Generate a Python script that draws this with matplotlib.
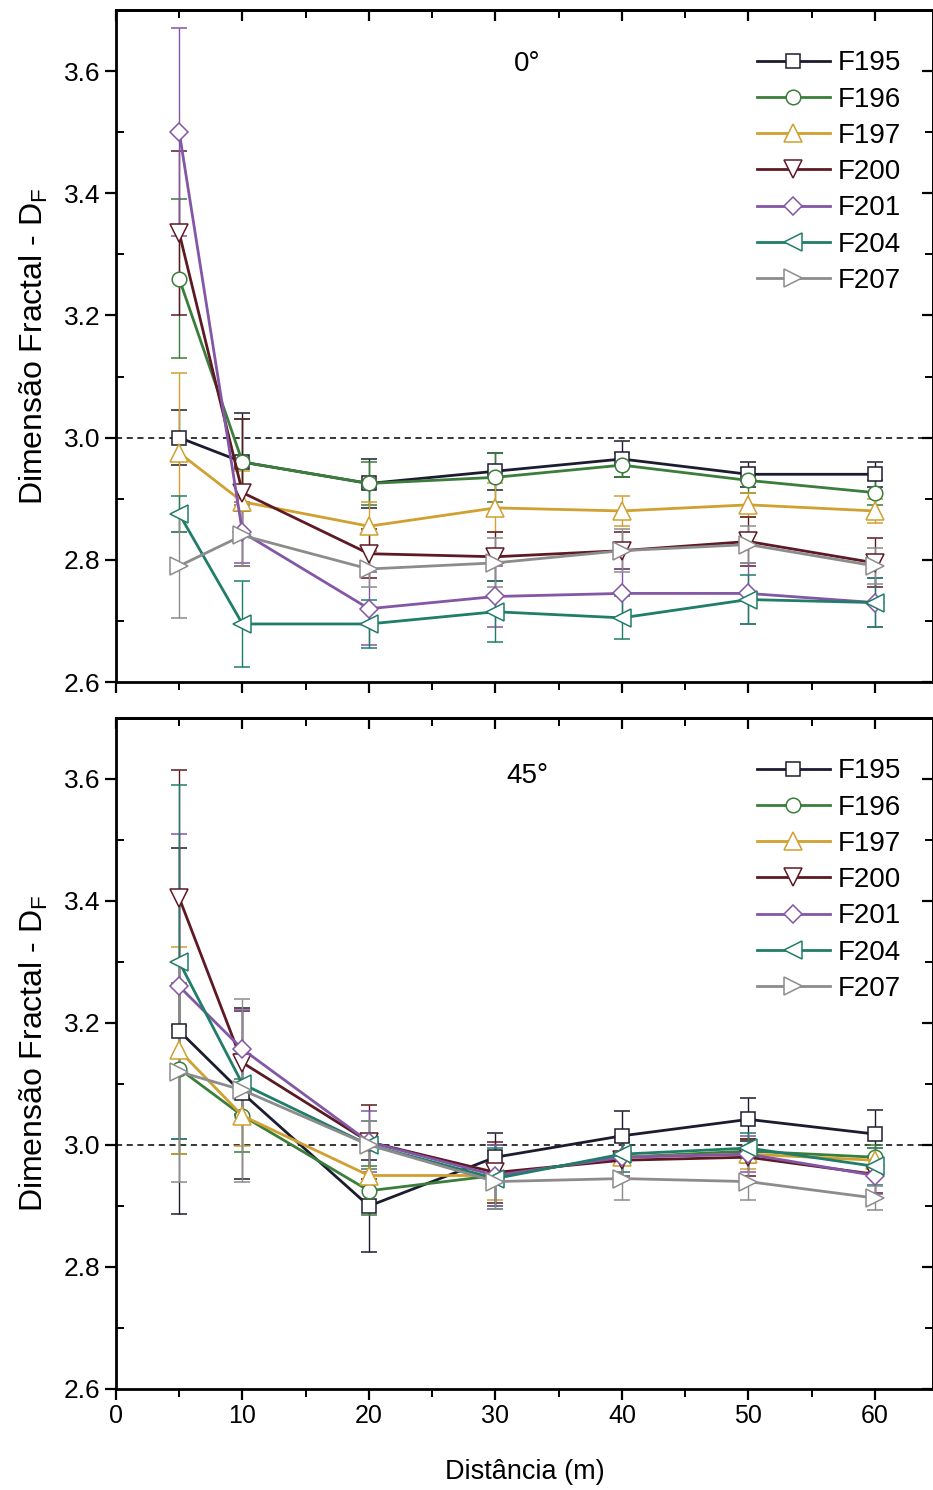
import matplotlib
matplotlib.use("Agg")
import matplotlib.pyplot as plt
from matplotlib.lines import Line2D
from matplotlib.ticker import MultipleLocator

plt.rcParams['font.family'] = ['Liberation Sans', 'DejaVu Sans']
plt.rcParams['mathtext.fontset'] = 'custom'
plt.rcParams['mathtext.rm'] = 'Liberation Sans'
plt.rcParams['mathtext.it'] = 'Liberation Sans:italic'

# Distances (m)
distancia = [5, 10, 20, 30, 40, 50, 60]

series = ['F195', 'F196', 'F197', 'F200', 'F201', 'F204', 'F207']
colors = ['#1c1c30', '#3b7d3b', '#d0a030', '#5e1a24', '#8456a6', '#1f7d68', '#8c8c8c']
markers = ['s', 'o', '^', 'v', 'D', '<', '>']
marker_sizes = [10, 10.5, 12.5, 12.5, 9.5, 12.5, 12.5]

# Fractal dimension, 0 degrees
df_0 = {
    'F195': [3.000, 2.960, 2.925, 2.945, 2.965, 2.940, 2.940],
    'F196': [3.260, 2.960, 2.925, 2.935, 2.955, 2.930, 2.910],
    'F197': [2.975, 2.895, 2.855, 2.885, 2.880, 2.890, 2.880],
    'F200': [3.335, 2.910, 2.810, 2.805, 2.815, 2.830, 2.795],
    'F201': [3.500, 2.845, 2.720, 2.740, 2.745, 2.745, 2.730],
    'F204': [2.875, 2.695, 2.695, 2.715, 2.705, 2.735, 2.730],
    'F207': [2.790, 2.840, 2.785, 2.795, 2.815, 2.825, 2.790],
}
err_0 = {
    'F195': [0.045, 0.080, 0.040, 0.030, 0.030, 0.020, 0.020],
    'F196': [0.130, 0.070, 0.035, 0.040, 0.020, 0.020, 0.020],
    'F197': [0.130, 0.050, 0.040, 0.040, 0.025, 0.020, 0.020],
    'F200': [0.135, 0.120, 0.040, 0.040, 0.030, 0.040, 0.040],
    'F201': [0.170, 0.050, 0.060, 0.050, 0.040, 0.050, 0.040],
    'F204': [0.030, 0.070, 0.040, 0.050, 0.035, 0.040, 0.040],
    'F207': [0.085, 0.050, 0.030, 0.040, 0.035, 0.030, 0.030],
}

# Fractal dimension, 45 degrees
df_45 = {
    'F195': [3.187, 3.085, 2.900, 2.980, 3.015, 3.042, 3.018],
    'F196': [3.125, 3.048, 2.925, 2.950, 2.980, 2.990, 2.980],
    'F197': [3.155, 3.048, 2.950, 2.950, 2.980, 2.985, 2.975],
    'F200': [3.405, 3.135, 3.005, 2.955, 2.975, 2.980, 2.952],
    'F201': [3.260, 3.157, 3.005, 2.950, 2.980, 2.985, 2.950],
    'F204': [3.300, 3.100, 3.000, 2.945, 2.985, 2.995, 2.965],
    'F207': [3.120, 3.090, 3.000, 2.940, 2.945, 2.940, 2.913],
}
err_45 = {
    'F195': [0.300, 0.140, 0.075, 0.040, 0.040, 0.035, 0.040],
    'F196': [0.140, 0.060, 0.040, 0.050, 0.030, 0.020, 0.020],
    'F197': [0.170, 0.050, 0.040, 0.040, 0.030, 0.025, 0.020],
    'F200': [0.210, 0.085, 0.060, 0.050, 0.030, 0.030, 0.030],
    'F201': [0.250, 0.065, 0.050, 0.050, 0.030, 0.030, 0.030],
    'F204': [0.290, 0.050, 0.040, 0.050, 0.030, 0.025, 0.030],
    'F207': [0.180, 0.150, 0.040, 0.045, 0.035, 0.030, 0.020],
}

panels = [(df_0, err_0, '0°', 3.612), (df_45, err_45, '45°', 3.605)]

fig = plt.figure(figsize=(9.33, 14.90), dpi=100)
W, H = 933, 1490
left_px, right_px = 116, 933
ax_rects = [(10, 682), (718, 1389)]  # (top, bottom) in pixels

for i, ((vals, errs, title, title_y), (top_px, bot_px)) in enumerate(zip(panels, ax_rects)):
    ax = fig.add_axes([left_px / W, 1 - bot_px / H, (right_px - left_px) / W, (bot_px - top_px) / H])
    handles = []
    for name, c, m, ms in zip(series, colors, markers, marker_sizes):
        ax.errorbar(distancia, vals[name], yerr=errs[name], color=c, lw=2.0,
                    marker=m, ms=ms, mfc='white', mec=c, mew=1.1,
                    ecolor=c, elinewidth=1.0, capsize=6, capthick=1.0)
        handles.append(Line2D([], [], color=c, lw=2.0, marker=m, ms=ms,
                              mfc='white', mec=c, mew=1.1, label=name))
    ax.axhline(3.0, color='black', ls=(0, (4, 3)), lw=1.1, zorder=1)
    ax.set_xlim(0, 64.6)
    ax.set_ylim(2.6, 3.7)
    ax.xaxis.set_major_locator(MultipleLocator(10))
    ax.xaxis.set_minor_locator(MultipleLocator(5))
    ax.yaxis.set_minor_locator(MultipleLocator(0.1))
    ax.set_yticks([2.6, 2.8, 3.0, 3.2, 3.4, 3.6])
    ax.set_yticklabels(['2.6', '2.8', '3.0', '3.2', '3.4', '3.6'])
    for s in ax.spines.values():
        s.set_linewidth(2.0)
    ax.tick_params(axis='both', which='major', direction='out', length=8, width=1.6,
                   labelsize=18, pad=3)
    ax.tick_params(axis='y', which='major', labelsize=19)
    ax.tick_params(axis='y', which='minor', direction='in', length=6, width=1.4)
    ax.tick_params(axis='x', which='minor', direction='out', length=6, width=1.4)
    # inward ticks on the top and right edges
    sec_x = ax.secondary_xaxis('top')
    sec_x.xaxis.set_major_locator(MultipleLocator(10))
    sec_x.xaxis.set_minor_locator(MultipleLocator(5))
    sec_x.tick_params(which='major', direction='in', length=8, width=1.6, labeltop=False)
    sec_x.tick_params(which='minor', direction='in', length=6, width=1.4)
    sec_y = ax.secondary_yaxis('right')
    sec_y.yaxis.set_major_locator(MultipleLocator(0.2))
    sec_y.yaxis.set_minor_locator(MultipleLocator(0.1))
    sec_y.tick_params(which='major', direction='in', length=8, width=1.6, labelright=False)
    sec_y.tick_params(which='minor', direction='in', length=6, width=1.4)
    for s in list(sec_x.spines.values()) + list(sec_y.spines.values()):
        s.set_linewidth(2.0)

    ax.set_ylabel('Dimensão Fractal - D$_\\mathrm{F}$', fontsize=23, labelpad=10)
    if i == 0:
        ax.tick_params(axis='x', labelbottom=False)
    else:
        ax.set_xlabel('Distância (m)', fontsize=19.5, labelpad=22)

    ax.text(32.5, title_y, title, fontsize=20, ha='center', va='center')
    ax.legend(handles=handles, loc='upper left', bbox_to_anchor=(0.785, 0.94),
              frameon=False, fontsize=20, handlelength=2.6, handletextpad=0.3,
              labelspacing=0.37, borderaxespad=0, borderpad=0)

fig.savefig('out.png', dpi=100)
